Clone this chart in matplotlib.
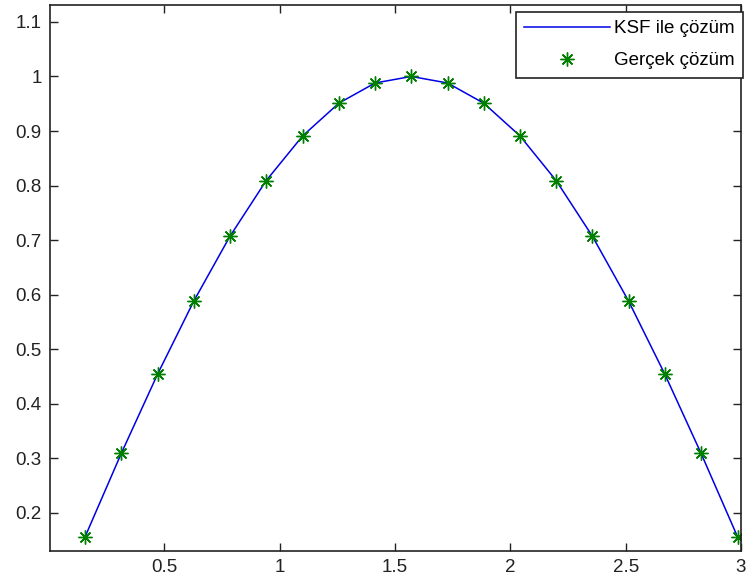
import matplotlib
matplotlib.use("Agg")
import matplotlib.pyplot as plt

x_vals = [0.157, 0.314, 0.471, 0.628, 0.785, 0.942, 1.100, 1.257, 1.414, 1.571,
          1.728, 1.885, 2.042, 2.199, 2.356, 2.513, 2.670, 2.827, 2.985]
ksf_vals = [0.156, 0.309, 0.454, 0.588, 0.707, 0.809, 0.891, 0.951, 0.988, 1.000,
            0.988, 0.951, 0.891, 0.809, 0.707, 0.588, 0.454, 0.309, 0.156]
exact_vals = [0.156, 0.309, 0.454, 0.588, 0.707, 0.809, 0.891, 0.951, 0.988, 1.000,
              0.988, 0.951, 0.891, 0.809, 0.707, 0.588, 0.454, 0.309, 0.156]
xticks = [0.5, 1, 1.5, 2, 2.5, 3]
xtick_labels = ["0.5", "1", "1.5", "2", "2.5", "3"]
yticks = [0.2, 0.3, 0.4, 0.5, 0.6, 0.7, 0.8, 0.9, 1.0, 1.1]
ytick_labels = ["0.2", "0.3", "0.4", "0.5", "0.6", "0.7", "0.8", "0.9", "1", "1.1"]

plt.rcParams['font.family'] = ['Liberation Sans', 'DejaVu Sans']

fig = plt.figure(figsize=(7.49, 5.85), dpi=100)
ax = fig.add_axes([50/749, 34/585, 691/749, 546/585])

ax.plot(x_vals, ksf_vals, color=(0, 0, 0.9), lw=1.1, label="KSF ile çözüm")
ax.plot(x_vals, exact_vals, linestyle='none', marker=(8, 2, 0), markersize=10,
        markeredgewidth=1.0, color=(0, 0.5, 0), label="Gerçek çözüm")

ax.set_xlim(0.005, 3.0)
ax.set_ylim(0.13, 1.131)
ax.set_xticks(xticks)
ax.set_xticklabels(xtick_labels)
ax.set_yticks(yticks)
ax.set_yticklabels(ytick_labels)
ax.tick_params(direction='in', length=6, width=1, labelsize=13.5, top=True, right=True,
               colors='#222222', pad=6)
for s in ax.spines.values():
    s.set_linewidth(1.2)
    s.set_color('#222222')

leg = ax.legend(loc='upper right', bbox_to_anchor=(1.003, 0.988), fontsize=13.5,
                fancybox=False, edgecolor='#222222', framealpha=1,
                handlelength=4.6, borderaxespad=0, labelspacing=0.8,
                handletextpad=0.2, borderpad=0.45)
leg.get_frame().set_linewidth(1.2)

fig.savefig("out.png", dpi=100)
